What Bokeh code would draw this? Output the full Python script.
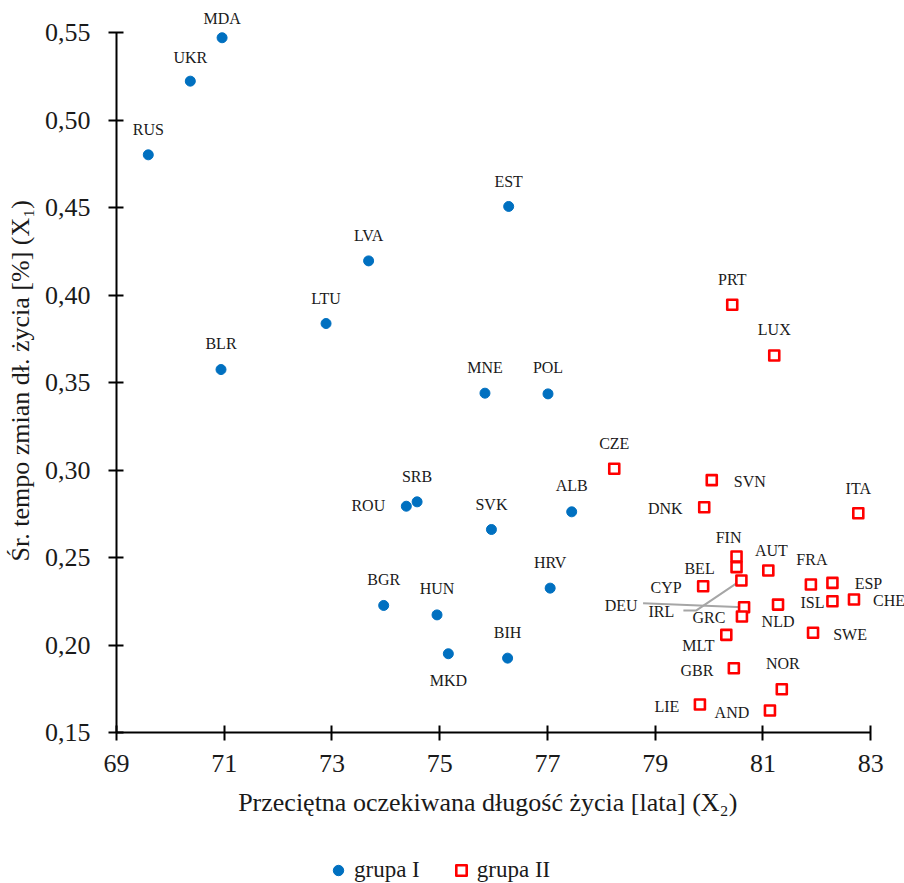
from bokeh.plotting import figure
from bokeh.models import (ColumnDataSource, FixedTicker, CustomJSTickFormatter,
                          Legend, LegendItem, Range1d)
from bokeh.layouts import column
from bokeh.core.properties import value
from bokeh.embed import file_html
from bokeh.resources import INLINE

# ---------------- data ----------------
g1_codes = ["MDA", "UKR", "RUS", "EST", "LVA", "LTU", "BLR", "MNE", "POL", "SRB",
            "ROU", "SVK", "ALB", "HRV", "BGR", "HUN", "MKD", "BIH"]
g1_x = [70.96, 70.37, 69.59, 76.28, 73.68, 72.89, 70.94, 75.84, 77.01, 74.58,
        74.38, 75.96, 77.45, 77.05, 73.96, 74.95, 75.16, 76.26]
g1_y = [0.5470, 0.5222, 0.4801, 0.4506, 0.4195, 0.3837, 0.3574, 0.3439, 0.3435, 0.2818,
        0.2793, 0.2660, 0.2761, 0.2325, 0.2226, 0.2172, 0.1950, 0.1925]

g2_codes = ["PRT", "LUX", "CZE", "SVN", "DNK", "ITA", "FIN", "BEL", "AUT", "CYP",
            "IRL", "DEU", "FRA", "ESP", "ISL", "CHE", "NLD", "GRC", "SWE", "MLT",
            "GBR", "NOR", "LIE", "AND"]
g2_x = [80.43, 81.21, 78.24, 80.05, 79.91, 82.77, 80.51, 80.51, 81.10, 79.89,
        80.60, 80.65, 81.89, 82.29, 82.29, 82.69, 81.28, 80.61, 81.93, 80.32,
        80.46, 81.35, 79.83, 81.13]
g2_y = [0.3944, 0.3654, 0.3007, 0.2942, 0.2787, 0.2753, 0.2506, 0.2445, 0.2426, 0.2336,
        0.2369, 0.2216, 0.2346, 0.2355, 0.2250, 0.2260, 0.2231, 0.2163, 0.2070, 0.2058,
        0.1867, 0.1747, 0.1660, 0.1626]

x_ticks = [69, 71, 73, 75, 77, 79, 81, 83]
y_ticks = [0.15, 0.20, 0.25, 0.30, 0.35, 0.40, 0.45, 0.50, 0.55]

series_names = ["grupa I", "grupa II"]
x_title = "Przeciętna oczekiwana długość życia [lata] (X₂)"
y_title = "Śr. tempo zmian dł. życia [%] (X₁)"

# ---------------- styling (label placement in screen px, y downwards) ----------------
g1_off = [(0, -19), (0, -24), (0, -25), (0, -25), (0, -25), (0, -25), (0, -26), (0, -26),
          (0, -26), (0, -25), (-38, -1), (0, -25), (0, -26), (0, -26), (0, -26), (0, -26),
          (0, 27), (0, -26)]
g2_off = [(0, -25), (0, -26), (0, -25), (38, 1), (-39, 1), (0, -25), (-8, -19), (-37, 1),
          (3, -20), (-37, 1), (-80, 31), (-123, -2), (1, -25), (36, 1), (-20, 1), (35, 1),
          (0, 17), (-33, 1), (37, 2), (-28, 11), (-37, 2), (1, -26), (-33, 2), (-38, 2)]
leaders = [("DEU", [(-101, -4), (-1, 0)]),
           ("IRL", [(-58, 30), (-45, 30), (-2, 1)])]

FONT = "Liberation Serif"
BLUE = "#0070C0"
RED = "#FF0000"
TXT = "#1a1a1a"
NBSP = "\u00a0"

PX_PER_YEAR = 53.87
PX_PER_UNIT = 1750.0
FW, FH = 788, 723
X0, X1 = 69.0, 69.0 + FW / PX_PER_YEAR
Y0, Y1 = 0.15, 0.15 + FH / PX_PER_UNIT
SX = FW / (X1 - X0)
SY = FH / (Y1 - Y0)

p = figure(frame_width=FW, frame_height=FH, x_range=Range1d(X0, X1), y_range=Range1d(Y0, Y1),
           output_backend="svg", toolbar_location=None,
           min_border_left=116, min_border_right=0, min_border_top=9, min_border_bottom=114)
p.outline_line_color = None
p.xgrid.visible = False
p.ygrid.visible = False
p.background_fill_color = "white"
p.border_fill_color = "white"

lx, ly = [], []
for code, pts in leaders:
    i = g2_codes.index(code)
    mx, my = g2_x[i], g2_y[i]
    lx.append([mx + dx / SX for dx, dy in pts])
    ly.append([my - dy / SY for dx, dy in pts])
p.multi_line(lx, ly, line_color="#A6A6A6", line_width=2)

s1 = ColumnDataSource(dict(x=g1_x, y=g1_y, label=g1_codes,
                           xo=[o[0] for o in g1_off], yo=[o[1] for o in g1_off]))
s2 = ColumnDataSource(dict(x=g2_x, y=g2_y, label=g2_codes,
                           xo=[o[0] for o in g2_off], yo=[o[1] for o in g2_off]))

circle_style = dict(marker="circle", size=10, fill_color=BLUE, line_color=BLUE)
square_style = dict(marker="square", size=10, fill_color="white", line_color=RED,
                    line_width=2.6, line_join="round")

r1 = p.scatter("x", "y", source=s1, **circle_style)
r2 = p.scatter("x", "y", source=s2, **square_style)

for s in (s1, s2):
    p.text("x", "y", text="label", source=s, x_offset="xo", y_offset="yo",
           text_align="center", text_baseline="middle", text_font=value(FONT),
           text_font_size="16px", text_color=TXT)

xa = p.xaxis[0]
ya = p.yaxis[0]
xa.ticker = FixedTicker(ticks=x_ticks)
ya.ticker = FixedTicker(ticks=y_ticks)
ya.formatter = CustomJSTickFormatter(code="return tick.toFixed(2).replace('.', ',');")
xa.bounds = (69, 83)
ya.bounds = (0.15, 0.55)
for ax in (xa, ya):
    ax.axis_line_color = "black"
    ax.axis_line_width = 2
    ax.major_tick_line_color = "black"
    ax.major_tick_line_width = 2
    ax.major_tick_in = 7
    ax.major_tick_out = 8
    ax.minor_tick_line_color = None
    ax.major_label_text_font = FONT
    ax.major_label_text_font_size = "26px"
    ax.major_label_text_color = TXT
    ax.axis_label_text_font = FONT
    ax.axis_label_text_font_size = "26px"
    ax.axis_label_text_font_style = "normal"
    ax.axis_label_text_color = TXT
# trailing no-break spaces centre the titles on the drawn axis spans (69-83, 0.15-0.55)
xa.axis_label = x_title + NBSP * 7
ya.axis_label = y_title + NBSP * 3
xa.major_label_standoff = 14
ya.major_label_standoff = 18
xa.axis_label_standoff = 13
ya.axis_label_standoff = 7

# ---------------- legend strip under the chart ----------------
lg = figure(width=FW + 116, height=37, x_range=Range1d(0, 1), y_range=Range1d(0, 1),
            output_backend="svg", toolbar_location=None,
            x_axis_location=None, y_axis_location=None,
            min_border_left=0, min_border_right=0, min_border_top=0, min_border_bottom=0)
lg.outline_line_color = None
lg.xgrid.visible = False
lg.ygrid.visible = False
# proxies for the legend (first point of each series, outside this strip's ranges)
lr1 = lg.scatter(x=g1_x[:1], y=g1_y[:1], **circle_style)
lr2 = lg.scatter(x=g2_x[:1], y=g2_y[:1], **square_style)
legend = Legend(items=[LegendItem(label=series_names[0], renderers=[lr1]),
                       LegendItem(label=series_names[1], renderers=[lr2])],
                orientation="horizontal", location=(209, 0),
                label_text_font=FONT, label_text_font_size="23px", label_text_color=TXT,
                glyph_width=26, glyph_height=26, label_standoff=3, spacing=28,
                padding=0, margin=0, border_line_color=None, background_fill_alpha=0)
lg.add_layout(legend, "center")

layout = column(p, lg, spacing=0)
open("out.html", "w").write(file_html(layout, INLINE))
